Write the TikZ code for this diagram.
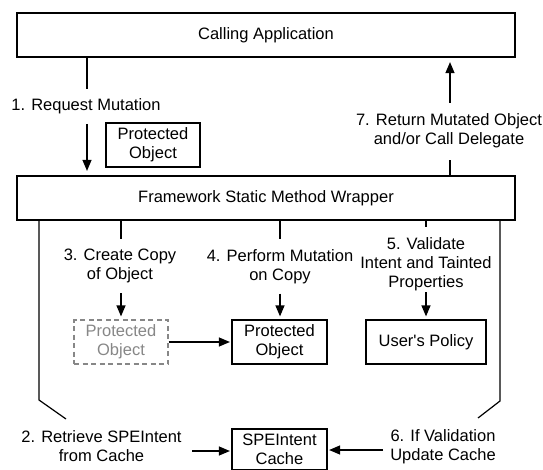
\documentclass[tikz,border=0pt]{standalone}
\usepackage{fontspec}
\setmainfont{Liberation Sans}
\usetikzlibrary{arrows.meta}
\definecolor{dupgray}{RGB}{135,135,135}
\begin{document}
\begin{tikzpicture}[x=1pt,y=-1pt,
  line width=1.2pt,
  every node/.style={font=\fontsize{16.5}{19}\selectfont, align=center, inner sep=0pt},
  box/.style={draw, rectangle, minimum height=44pt},
  dupbox/.style={draw=dupgray, text=dupgray, dash pattern=on 5pt off 3.5pt, rectangle, minimum height=44pt},
  arr/.style={-{Triangle[length=11pt,width=9pt]}},
  plain/.style={-}
]
\useasboundingbox (0,0) rectangle (543,470);

% boxes
\node[box, minimum width=498pt] (app) at (266,35) {Calling Application};
\node[box, minimum width=498pt] (wrap) at (266,198) {Framework Static Method Wrapper};
\node[box, minimum width=94pt] (po1) at (153,145) {Protected\\Object};
\node[dupbox, minimum width=94pt] (dup) at (121,342) {Protected\\Object};
\node[box, minimum width=95pt] (po2) at (279.5,342) {Protected\\Object};
\node[box, minimum width=120pt] (pol) at (426,342) {User\textquotesingle s Policy};
\node[box, minimum width=95pt, minimum height=41pt] (cache) at (279.5,449.5) {SPEIntent\\Cache};

% labels
\node (l1) at (86,106) {1. Request Mutation};
\node (l7) at (449,131) {7. Return Mutated Object\\and/or Call Delegate};
\node (l3) at (120,266) {3. Create Copy\\of Object};
\node (l4) at (280,266.5) {4. Perform Mutation\\on Copy};
\node (l5) at (426,264.5) {5. Validate\\Intent and Tainted\\Properties};
\node (l2) at (101.5,446.5) {2. Retrieve SPEIntent\\from Cache};
\node (l6) at (443,446.7) {6. If Validation\\Update Cache};

% coordinates for free ends
\coordinate (c1a) at (87,89);
\coordinate (c1b) at (87,124);
\coordinate (c7a) at (450,160);
\coordinate (c7b) at (450,103);
\coordinate (c3a) at (121,239.5);
\coordinate (c3b) at (121,293);
\coordinate (c4a) at (280,239);
\coordinate (c4b) at (280,293.5);
\coordinate (c5a) at (426,227);
\coordinate (c5b) at (426,292);
\coordinate (L1) at (39,400);
\coordinate (L2) at (66,419);
\coordinate (R1) at (500,401);
\coordinate (R2) at (478,418);
\coordinate (a2) at (192,451);
\coordinate (a6) at (383,450);

% step 1
\draw[plain] (app.south -| c1a) -- (c1a);
\draw[arr, shorten >=4.5pt] (c1b) -- (wrap.north -| c1b);
% step 7
\draw[plain] (wrap.north -| c7a) -- (c7a);
\draw[arr, shorten >=4.5pt] (c7b) -- (app.south -| c7b);
% step 3
\draw[plain] (wrap.south -| c3a) -- (c3a);
\draw[arr, shorten >=3pt] (c3b) -- (dup.north -| c3b);
% step 4
\draw[plain] (wrap.south -| c4a) -- (c4a);
\draw[arr, shorten >=3pt] (c4b) -- (po2.north -| c4b);
% step 5
\draw[plain] (wrap.south -| c5a) -- (c5a);
\draw[arr, shorten >=3pt] (c5b) -- (pol.north -| c5b);
% copy to mutated
\draw[arr, shorten >=1.5pt] (dup.east) -- (po2.west);
% step 2
\draw[plain] (wrap.south -| L1) -- (L1) -- (L2);
\draw[arr, shorten >=1.5pt] (a2) -- (cache.west |- a2);
% step 6
\draw[plain] (wrap.south -| R1) -- (R1) -- (R2);
\draw[arr, shorten >=1.5pt] (a6) -- (cache.east |- a6);
\end{tikzpicture}
\end{document}
